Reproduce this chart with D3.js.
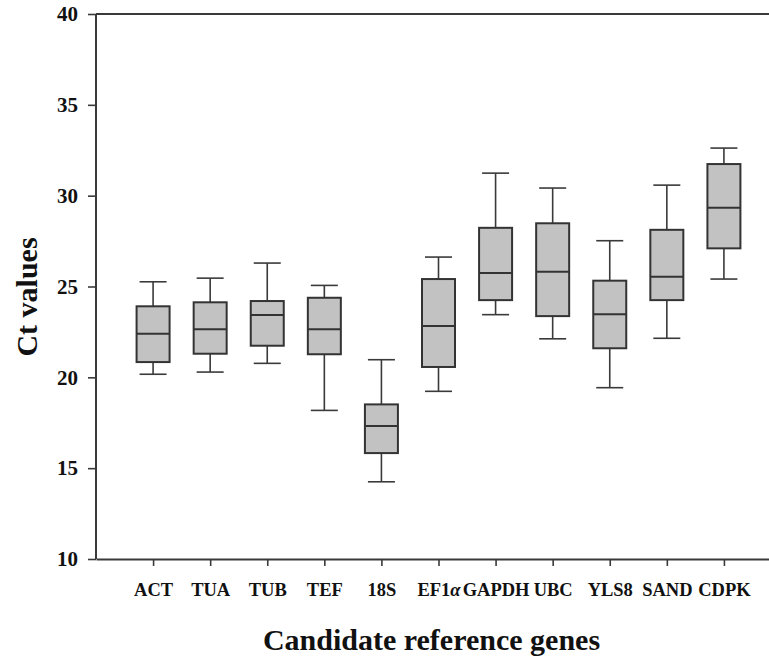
<!DOCTYPE html>
<html>
<head>
<meta charset="utf-8">
<script src="https://cdn.jsdelivr.net/npm/d3@7"></script>
<style>
  body { margin: 0; background: #fff; }
  svg { display: block; }
  text { font-family: "Liberation Serif", "Times New Roman", serif; font-weight: bold; fill: #111; }
</style>
</head>
<body>
<div class="chart"></div>
<script>
// === Data ===
const genes = ["ACT", "TUA", "TUB", "TEF", "18S", "EF1α", "GAPDH", "UBC", "YLS8", "SAND", "CDPK"];
const whiskerLow  = [20.17, 20.29, 20.77, 18.18, 14.25, 19.23, 23.45, 22.12, 19.43, 22.15, 25.41];
const q1          = [20.84, 21.30, 21.74, 21.27, 15.83, 20.57, 24.25, 23.37, 21.60, 24.25, 27.10];
const median      = [22.40, 22.64, 23.43, 22.64, 17.32, 22.82, 25.74, 25.81, 23.47, 25.54, 29.33];
const q3          = [23.91, 24.13, 24.20, 24.38, 18.51, 25.41, 28.23, 28.48, 25.32, 28.12, 31.74];
const whiskerHigh = [25.26, 25.46, 26.29, 25.06, 20.97, 26.62, 31.24, 30.42, 27.52, 30.58, 32.62];
const yTicks = [10, 15, 20, 25, 30, 35, 40];

const data = genes.map((g, i) => ({
  gene: g, pos: i + 1,
  lo: whiskerLow[i], q1: q1[i], med: median[i], q3: q3[i], hi: whiskerHigh[i]
}));

// === SVG ===
const W = 769, H = 659;
const svg = d3.select(".chart").append("svg")
    .attr("width", W)
    .attr("height", H);

// === Scales ===
const xScale = d3.scaleLinear().domain([0, 12]).range([96, 781]);
const yScale = d3.scaleLinear().domain([10, 40]).range([559, 14]);

const lineColor = "#3a3a3a";
const boxW = 33, capW = 27;
const serif = "'Liberation Serif', 'Times New Roman', serif";

// === Axes ===
const yAxis = d3.axisLeft(yScale).tickValues(yTicks).tickSize(8).tickPadding(10);
const xAxis = d3.axisBottom(xScale)
    .tickValues(d3.range(1, 12))
    .tickFormat(d => genes[d - 1])
    .tickSize(7).tickPadding(17)
    .tickSizeOuter(0);

const yAxisG = svg.append("g")
    .attr("transform", `translate(${xScale(0)},0)`)
    .call(yAxis);
yAxisG.select(".domain").remove();
yAxisG.append("line")
    .attr("y1", yScale(40)).attr("y2", yScale(10))
    .attr("stroke", lineColor).attr("stroke-width", 2);
yAxisG.selectAll(".tick line").attr("stroke", lineColor).attr("stroke-width", 1.6);
yAxisG.selectAll(".tick text")
    .attr("font-size", 21)
    .style("font-family", serif)
    .style("font-weight", "bold")
    .attr("fill", "#111");

const xAxisG = svg.append("g")
    .attr("transform", `translate(0,${yScale(10)})`)
    .call(xAxis);
xAxisG.select(".domain").attr("stroke", lineColor).attr("stroke-width", 2);
xAxisG.selectAll(".tick line").attr("stroke", lineColor).attr("stroke-width", 1.6);
xAxisG.selectAll(".tick text")
    .attr("font-size", 18.5)
    .style("font-family", serif)
    .style("font-weight", "bold")
    .attr("fill", "#111");

// italic alpha in EF1α
xAxisG.selectAll(".tick text")
    .filter(d => genes[d - 1] === "EF1α")
    .text(null)
    .call(t => {
      t.append("tspan").text("EF1");
      t.append("tspan").style("font-style", "italic").text("α");
    });

// top frame line
svg.append("line")
    .attr("x1", xScale(0)).attr("x2", xScale(12))
    .attr("y1", yScale(40)).attr("y2", yScale(40))
    .attr("stroke", lineColor).attr("stroke-width", 2);

// === Boxes ===
const boxes = svg.selectAll(".box")
    .data(data)
    .join("g")
    .attr("class", "box")
    .attr("transform", d => `translate(${xScale(d.pos)},0)`);

// whiskers
boxes.append("line")
    .attr("y1", d => yScale(d.hi)).attr("y2", d => yScale(d.q3))
    .attr("stroke", lineColor).attr("stroke-width", 1.6);
boxes.append("line")
    .attr("y1", d => yScale(d.q1)).attr("y2", d => yScale(d.lo))
    .attr("stroke", lineColor).attr("stroke-width", 1.6);
boxes.append("line")
    .attr("x1", -capW / 2).attr("x2", capW / 2)
    .attr("y1", d => yScale(d.hi)).attr("y2", d => yScale(d.hi))
    .attr("stroke", lineColor).attr("stroke-width", 1.6);
boxes.append("line")
    .attr("x1", -capW / 2).attr("x2", capW / 2)
    .attr("y1", d => yScale(d.lo)).attr("y2", d => yScale(d.lo))
    .attr("stroke", lineColor).attr("stroke-width", 1.6);

// box
boxes.append("rect")
    .attr("x", -boxW / 2)
    .attr("width", boxW)
    .attr("y", d => yScale(d.q3))
    .attr("height", d => yScale(d.q1) - yScale(d.q3))
    .attr("fill", "#c2c2c2")
    .attr("stroke", "#333")
    .attr("stroke-width", 2);

// median
boxes.append("line")
    .attr("x1", -boxW / 2).attr("x2", boxW / 2)
    .attr("y1", d => yScale(d.med)).attr("y2", d => yScale(d.med))
    .attr("stroke", "#333").attr("stroke-width", 2);

// === Axis titles ===
svg.append("text")
    .attr("x", (263 + 600) / 2)
    .attr("y", 650)
    .attr("text-anchor", "middle")
    .attr("font-size", 30)
    .text("Candidate reference genes");

svg.append("text")
    .attr("transform", "translate(37,297) rotate(-90)")
    .attr("text-anchor", "middle")
    .attr("font-size", 30)
    .text("Ct values");
</script>
</body>
</html>
